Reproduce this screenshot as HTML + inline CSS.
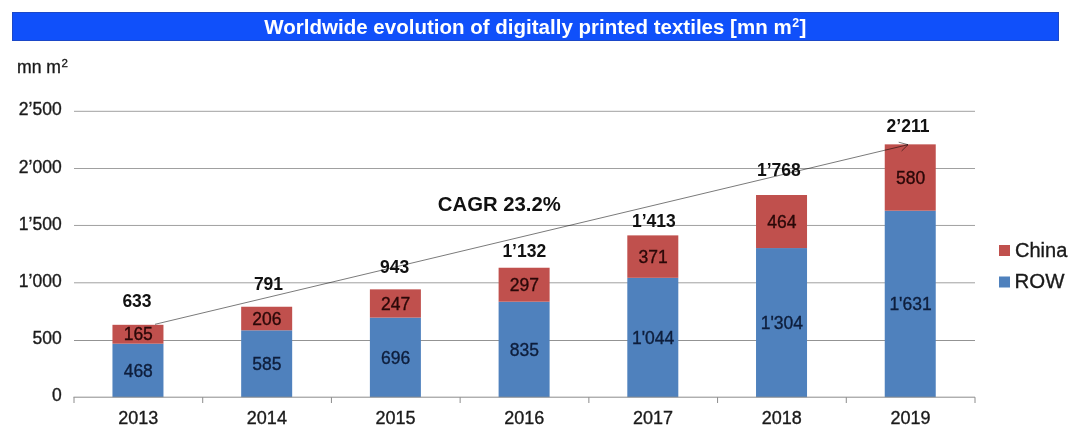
<!DOCTYPE html><html><head><meta charset="utf-8"><title>Worldwide evolution of digitally printed textiles</title><style>html,body{margin:0;padding:0;background:#fff;width:1080px;height:439px;overflow:hidden}svg{display:block;will-change:transform}text{font-family:"Liberation Sans",Arial,sans-serif}</style></head><body>
<svg width="1080" height="439" viewBox="0 0 1080 439">
<rect x="0" y="0" width="1080" height="439" fill="#ffffff"/>
<rect x="12.5" y="12.5" width="1046" height="28" fill="#1050fa" stroke="#1b48c8" stroke-width="1"/>
<text x="264.3" y="33.8" font-weight="bold" font-size="20.53" fill="#ffffff">Worldwide evolution of digitally printed textiles [mn m<tspan font-size="12.4" dy="-6.4" dx="0.6">2</tspan><tspan dy="6.4" dx="0.4">]</tspan></text>
<text x="17" y="72.8" font-size="17.6" fill="#1a1a1a" stroke="#1a1a1a" stroke-width="0.35">mn m<tspan font-size="11.5" dy="-6" dx="0.5">2</tspan></text>
<line x1="74" y1="111.3" x2="975" y2="111.3" stroke="#a0a0a0" stroke-width="1"/>
<line x1="74" y1="168.5" x2="975" y2="168.5" stroke="#a0a0a0" stroke-width="1"/>
<line x1="74" y1="225.45" x2="975" y2="225.45" stroke="#a0a0a0" stroke-width="1"/>
<line x1="74" y1="282.8" x2="975" y2="282.8" stroke="#a0a0a0" stroke-width="1"/>
<line x1="74" y1="340.5" x2="975" y2="340.5" stroke="#939393" stroke-width="1"/>
<text x="61.70" y="401.30" text-anchor="end" font-size="17.5" fill="#1a1a1a" stroke="#1a1a1a" stroke-width="0.35">0</text>
<text x="61.70" y="344.12" text-anchor="end" font-size="17.5" fill="#1a1a1a" stroke="#1a1a1a" stroke-width="0.35">500</text>
<text x="61.70" y="286.94" text-anchor="end" font-size="17.5" fill="#1a1a1a" stroke="#1a1a1a" stroke-width="0.35">1&#8217;000</text>
<text x="61.70" y="229.76" text-anchor="end" font-size="17.5" fill="#1a1a1a" stroke="#1a1a1a" stroke-width="0.35">1&#8217;500</text>
<text x="61.70" y="172.58" text-anchor="end" font-size="17.5" fill="#1a1a1a" stroke="#1a1a1a" stroke-width="0.35">2&#8217;000</text>
<text x="61.70" y="115.40" text-anchor="end" font-size="17.5" fill="#1a1a1a" stroke="#1a1a1a" stroke-width="0.35">2&#8217;500</text>
<rect x="112.46" y="343.68" width="51" height="53.52" fill="#4f81bd"/>
<rect x="112.46" y="324.81" width="51" height="18.87" fill="#c0504d"/>
<rect x="241.17" y="330.30" width="51" height="66.90" fill="#4f81bd"/>
<rect x="241.17" y="306.74" width="51" height="23.56" fill="#c0504d"/>
<rect x="369.89" y="317.61" width="51" height="79.59" fill="#4f81bd"/>
<rect x="369.89" y="289.36" width="51" height="28.25" fill="#c0504d"/>
<rect x="498.60" y="301.71" width="51" height="95.49" fill="#4f81bd"/>
<rect x="498.60" y="267.74" width="51" height="33.96" fill="#c0504d"/>
<rect x="627.31" y="277.81" width="51" height="119.39" fill="#4f81bd"/>
<rect x="627.31" y="235.38" width="51" height="42.43" fill="#c0504d"/>
<rect x="756.03" y="248.07" width="51" height="149.13" fill="#4f81bd"/>
<rect x="756.03" y="195.01" width="51" height="53.06" fill="#c0504d"/>
<rect x="884.74" y="210.68" width="51" height="186.52" fill="#4f81bd"/>
<rect x="884.74" y="144.35" width="51" height="66.33" fill="#c0504d"/>
<line x1="73.5" y1="397.2" x2="975" y2="397.2" stroke="#8c8c8c" stroke-width="1"/>
<line x1="74.0" y1="397.2" x2="74.0" y2="403" stroke="#8c8c8c" stroke-width="1"/>
<line x1="202.71" y1="397.2" x2="202.71" y2="403" stroke="#8c8c8c" stroke-width="1"/>
<line x1="331.43" y1="397.2" x2="331.43" y2="403" stroke="#8c8c8c" stroke-width="1"/>
<line x1="460.14" y1="397.2" x2="460.14" y2="403" stroke="#8c8c8c" stroke-width="1"/>
<line x1="588.86" y1="397.2" x2="588.86" y2="403" stroke="#8c8c8c" stroke-width="1"/>
<line x1="717.57" y1="397.2" x2="717.57" y2="403" stroke="#8c8c8c" stroke-width="1"/>
<line x1="846.29" y1="397.2" x2="846.29" y2="403" stroke="#8c8c8c" stroke-width="1"/>
<line x1="975.0" y1="397.2" x2="975.0" y2="403" stroke="#8c8c8c" stroke-width="1"/>
<text x="138.26" y="376.64" text-anchor="middle" font-size="17.5" fill="#0e1e3c" stroke="#0e1e3c" stroke-width="0.35">468</text>
<text x="138.26" y="340.44" text-anchor="middle" font-size="17.5" fill="#2a0808" stroke="#2a0808" stroke-width="0.35">165</text>
<text x="266.97" y="369.95" text-anchor="middle" font-size="17.5" fill="#0e1e3c" stroke="#0e1e3c" stroke-width="0.35">585</text>
<text x="266.97" y="324.72" text-anchor="middle" font-size="17.5" fill="#2a0808" stroke="#2a0808" stroke-width="0.35">206</text>
<text x="395.69" y="363.60" text-anchor="middle" font-size="17.5" fill="#0e1e3c" stroke="#0e1e3c" stroke-width="0.35">696</text>
<text x="395.69" y="309.68" text-anchor="middle" font-size="17.5" fill="#2a0808" stroke="#2a0808" stroke-width="0.35">247</text>
<text x="524.40" y="355.65" text-anchor="middle" font-size="17.5" fill="#0e1e3c" stroke="#0e1e3c" stroke-width="0.35">835</text>
<text x="524.40" y="290.93" text-anchor="middle" font-size="17.5" fill="#2a0808" stroke="#2a0808" stroke-width="0.35">297</text>
<text x="653.11" y="343.70" text-anchor="middle" font-size="17.5" fill="#0e1e3c" stroke="#0e1e3c" stroke-width="0.35">1'044</text>
<text x="653.11" y="262.79" text-anchor="middle" font-size="17.5" fill="#2a0808" stroke="#2a0808" stroke-width="0.35">371</text>
<text x="781.83" y="328.84" text-anchor="middle" font-size="17.5" fill="#0e1e3c" stroke="#0e1e3c" stroke-width="0.35">1'304</text>
<text x="781.83" y="227.74" text-anchor="middle" font-size="17.5" fill="#2a0808" stroke="#2a0808" stroke-width="0.35">464</text>
<text x="910.54" y="310.14" text-anchor="middle" font-size="17.5" fill="#0e1e3c" stroke="#0e1e3c" stroke-width="0.35">1'631</text>
<text x="910.54" y="183.71" text-anchor="middle" font-size="17.5" fill="#2a0808" stroke="#2a0808" stroke-width="0.35">580</text>
<text x="138.16" y="424.10" text-anchor="middle" font-size="18" fill="#1a1a1a" stroke="#1a1a1a" stroke-width="0.35">2013</text>
<text x="266.87" y="424.10" text-anchor="middle" font-size="18" fill="#1a1a1a" stroke="#1a1a1a" stroke-width="0.35">2014</text>
<text x="395.59" y="424.10" text-anchor="middle" font-size="18" fill="#1a1a1a" stroke="#1a1a1a" stroke-width="0.35">2015</text>
<text x="524.30" y="424.10" text-anchor="middle" font-size="18" fill="#1a1a1a" stroke="#1a1a1a" stroke-width="0.35">2016</text>
<text x="653.01" y="424.10" text-anchor="middle" font-size="18" fill="#1a1a1a" stroke="#1a1a1a" stroke-width="0.35">2017</text>
<text x="781.73" y="424.10" text-anchor="middle" font-size="18" fill="#1a1a1a" stroke="#1a1a1a" stroke-width="0.35">2018</text>
<text x="910.44" y="424.10" text-anchor="middle" font-size="18" fill="#1a1a1a" stroke="#1a1a1a" stroke-width="0.35">2019</text>
<line x1="155" y1="324.3" x2="908" y2="144.7" stroke="#000" stroke-opacity="0.62" stroke-width="0.85"/>
<polyline points="898.7,142.2 908,144.7 901.6,151" fill="none" stroke="#000" stroke-opacity="0.62" stroke-width="0.85"/>
<text x="137.00" y="307.20" text-anchor="middle" font-weight="bold" font-size="17.5" fill="#111">633</text>
<text x="268.50" y="290.00" text-anchor="middle" font-weight="bold" font-size="17.5" fill="#111">791</text>
<text x="394.60" y="273.10" text-anchor="middle" font-weight="bold" font-size="17.5" fill="#111">943</text>
<text x="524.30" y="257.00" text-anchor="middle" font-weight="bold" font-size="17.5" fill="#111">1&#8217;132</text>
<text x="653.90" y="226.90" text-anchor="middle" font-weight="bold" font-size="17.5" fill="#111">1&#8217;413</text>
<text x="778.90" y="176.40" text-anchor="middle" font-weight="bold" font-size="17.5" fill="#111">1&#8217;768</text>
<text x="908.00" y="131.50" text-anchor="middle" font-weight="bold" font-size="17.5" fill="#111">2&#8217;211</text>
<text x="499.30" y="210.90" text-anchor="middle" font-weight="bold" font-size="20.3" fill="#111">CAGR 23.2%</text>
<rect x="999" y="245" width="11" height="11" fill="#c0504d"/>
<rect x="999" y="276.5" width="11" height="11" fill="#4f81bd"/>
<text x="1015.00" y="256.90" font-size="20" fill="#1a1a1a" stroke="#1a1a1a" stroke-width="0.35">China</text>
<text x="1014.60" y="288.00" font-size="20.4" fill="#1a1a1a" stroke="#1a1a1a" stroke-width="0.35">ROW</text>
</svg></body></html>
